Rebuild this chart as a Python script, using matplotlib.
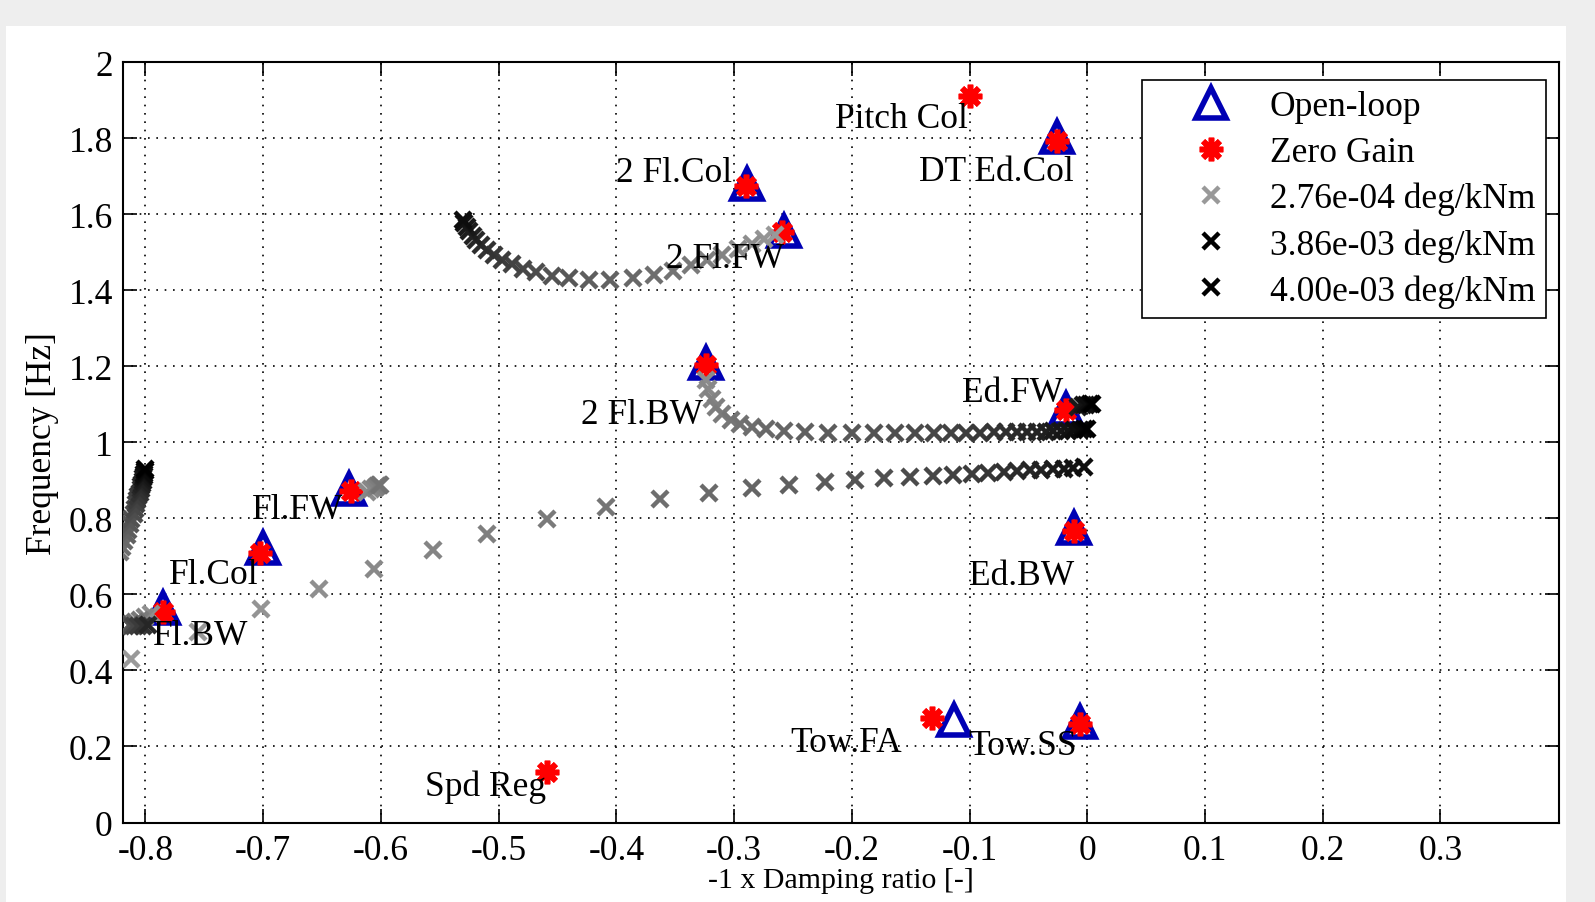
import numpy as np
import matplotlib.pyplot as plt
from matplotlib.patches import Rectangle
from matplotlib.lines import Line2D

plt.rcParams['font.family'] = ['Liberation Serif', 'DejaVu Serif']

# open-loop poles (-1 x damping ratio, frequency Hz)
ol_x = [-0.785, -0.700, -0.627, -0.324, -0.289, -0.258, -0.026, -0.018, -0.011, -0.113, -0.006]
ol_y = [0.565, 0.722, 0.877, 1.209, 1.679, 1.556, 1.802, 1.088, 0.775, 0.270, 0.265]

# zero gain poles
zg_x = [-0.785, -0.703, -0.625, -0.324, -0.290, -0.259, -0.026, -0.100, -0.018, -0.011, -0.132, -0.006, -0.459]
zg_y = [0.555, 0.709, 0.872, 1.203, 1.674, 1.553, 1.794, 1.912, 1.086, 0.767, 0.275, 0.259, 0.134]

# mode labels
mode_labels = ['Pitch Col', 'DT Ed.Col', '2 Fl.Col', '2 Fl.FW', '2 Fl.BW', 'Ed.FW', 'Fl.FW',
               'Fl.Col', 'Fl.BW', 'Ed.BW', 'Tow.FA', 'Tow.SS', 'Spd Reg']
label_x = [-0.158, -0.077, -0.351, -0.308, -0.378, -0.063, -0.671, -0.742, -0.753, -0.056, -0.205, -0.055, -0.511]
label_y = [1.852, 1.713, 1.711, 1.483, 1.072, 1.130, 0.823, 0.652, 0.491, 0.649, 0.211, 0.203, 0.096]

# root locus branches, low gain -> high gain
fw2_x = [-0.265, -0.275, -0.285, -0.297, -0.310, -0.323, -0.337, -0.352, -0.368, -0.386, -0.405,
         -0.423, -0.440, -0.455, -0.468, -0.479, -0.489, -0.497, -0.504, -0.510, -0.515, -0.519,
         -0.522, -0.525, -0.527, -0.529, -0.530]
fw2_y = [1.545, 1.535, 1.522, 1.508, 1.494, 1.480, 1.466, 1.452, 1.441, 1.433, 1.428,
         1.428, 1.432, 1.438, 1.447, 1.457, 1.468, 1.480, 1.492, 1.505, 1.518, 1.531,
         1.544, 1.556, 1.567, 1.577, 1.586]

bw2_x = [-0.324, -0.322, -0.319, -0.315, -0.310, -0.303, -0.295, -0.285, -0.273, -0.258, -0.240,
         -0.220, -0.200, -0.181, -0.163, -0.146, -0.130, -0.116, -0.103, -0.091, -0.079, -0.069,
         -0.060, -0.051, -0.043, -0.035, -0.029, -0.022, -0.016, -0.011, -0.006, -0.003, 0.000]
bw2_y = [1.165, 1.140, 1.115, 1.093, 1.075, 1.060, 1.049, 1.040, 1.034, 1.030, 1.027,
         1.025, 1.024, 1.024, 1.024, 1.024, 1.024, 1.024, 1.025, 1.025, 1.026, 1.026,
         1.027, 1.027, 1.028, 1.028, 1.029, 1.030, 1.031, 1.032, 1.033, 1.034, 1.036]

low_x = [-0.812, -0.702, -0.653, -0.606, -0.556, -0.510, -0.459, -0.409, -0.363, -0.321, -0.285,
         -0.253, -0.223, -0.197, -0.173, -0.151, -0.131, -0.114, -0.098, -0.084, -0.071, -0.060,
         -0.049, -0.039, -0.029, -0.020, -0.012, -0.003]
low_y = [0.431, 0.562, 0.615, 0.668, 0.716, 0.760, 0.799, 0.830, 0.852, 0.867, 0.880,
         0.887, 0.895, 0.900, 0.905, 0.909, 0.912, 0.915, 0.918, 0.920, 0.922, 0.924,
         0.926, 0.928, 0.929, 0.931, 0.933, 0.936]

flbw_x = [-0.755, -0.795, -0.800, -0.805, -0.809, -0.812, -0.813, -0.812, -0.810, -0.806, -0.802, -0.798]
flbw_y = [0.500, 0.548, 0.540, 0.533, 0.527, 0.523, 0.520, 0.518, 0.517, 0.517, 0.518, 0.520]

flfw_x = [-0.612, -0.608, -0.605, -0.603, -0.602, -0.601]
flfw_y = [0.870, 0.876, 0.880, 0.884, 0.887, 0.889]

edge_x = [-0.822, -0.820, -0.818, -0.816, -0.815, -0.813, -0.812, -0.810, -0.809, -0.808, -0.807,
          -0.806, -0.805, -0.804, -0.804, -0.803, -0.802, -0.802, -0.801, -0.801, -0.800, -0.800]
edge_y = [0.712, 0.725, 0.740, 0.755, 0.770, 0.785, 0.798, 0.812, 0.825, 0.837, 0.848,
          0.858, 0.867, 0.876, 0.884, 0.891, 0.898, 0.905, 0.912, 0.918, 0.924, 0.930]

edfw_x = [-0.008, -0.004, -0.001, 0.002, 0.004]
edfw_y = [1.094, 1.097, 1.099, 1.101, 1.102]

branches = [(fw2_x, fw2_y), (bw2_x, bw2_y), (low_x, low_y), (flbw_x, flbw_y),
            (flfw_x, flfw_y), (edge_x, edge_y), (edfw_x, edfw_y)]
branch_grey = [(0.6, 0.05), (0.55, 0.0), (0.6, 0.05), (0.6, 0.15), (0.55, 0.45), (0.45, 0.0), (0.1, 0.0)]

gain_labels = ['2.76e-04 deg/kNm', '3.86e-03 deg/kNm', '4.00e-03 deg/kNm']

FS = 25.5
W, H = 1595, 903
fig = plt.figure(figsize=(W / 100, H / 100), dpi=100, facecolor='#eeeeee')
fig.patches.append(Rectangle((6 / W, 0), (1566 - 6) / W, 1 - 27 / H,
                             transform=fig.transFigure, facecolor='white', edgecolor='none', zorder=-10))

ax = fig.add_axes([122.5 / W, 1 - 823.5 / H, (1559 - 122.5) / W, (823.5 - 63.2) / H])

ax.plot(ol_x, ol_y, linestyle='none', marker='^', ms=21, mfc='none', mec='#0000b4', mew=4, zorder=3)
ax.plot(zg_x, zg_y, linestyle='none', marker=(8, 2, 0), ms=17, mec='#ff0000', mew=4, zorder=4)

for (bx, by), (g0, g1) in zip(branches, branch_grey):
    greys = np.linspace(g0, g1, len(bx))
    for xi, yi, g in zip(bx, by, greys):
        ax.plot(xi, yi, linestyle='none', marker='x', ms=11, mew=3.2, color=(g, g, g), zorder=5)

for lab, lx, ly in zip(mode_labels, label_x, label_y):
    ax.text(lx, ly, lab, fontsize=FS, ha='center', va='center', zorder=6)

ax.set_xlim(-0.8195, 0.4007)
ax.set_ylim(0, 2)
ax.set_xticks(np.arange(-8, 4) / 10)
ax.set_xticklabels(['-0.8', '-0.7', '-0.6', '-0.5', '-0.4', '-0.3', '-0.2', '-0.1', '0', '0.1', '0.2', '0.3'])
ax.set_yticks(np.arange(0, 11) / 5)
ax.set_yticklabels(['0', '0.2', '0.4', '0.6', '0.8', '1', '1.2', '1.4', '1.6', '1.8', '2'])
ax.tick_params(direction='in', length=10, width=1.2, top=True, right=True, labelsize=FS)
ax.tick_params(axis='x', pad=8)
ax.tick_params(axis='y', pad=7)
ax.grid(True, linestyle=(0, (1, 4)), color='black', linewidth=1.2)
for s in ax.spines.values():
    s.set_linewidth(1.5)

ax.set_xlabel('-1 x Damping ratio [-]', fontsize=21.5, labelpad=0)
ax.set_ylabel('Frequency [Hz]', fontsize=FS, labelpad=7)

handles = [
    Line2D([], [], linestyle='none', marker='^', ms=21, mfc='none', mec='#0000b4', mew=4),
    Line2D([], [], linestyle='none', marker=(8, 2, 0), ms=17, mec='#ff0000', mew=4),
    Line2D([], [], linestyle='none', marker='x', ms=11, mew=3.2, color='#999999'),
    Line2D([], [], linestyle='none', marker='x', ms=11, mew=3.2, color='black'),
    Line2D([], [], linestyle='none', marker='x', ms=11, mew=3.2, color='black'),
]
leg = fig.legend(handles, ['Open-loop', 'Zero Gain'] + gain_labels, loc='upper right',
                 bbox_to_anchor=(1546 / W, 1 - 80.7 / H), borderaxespad=0, fontsize=FS,
                 fancybox=False, framealpha=1, edgecolor='black', labelspacing=0.36,
                 handlelength=3.25, handletextpad=0.05, borderpad=0.3)
leg.get_frame().set_linewidth(1.2)

fig.savefig('out.png', dpi=100, facecolor=fig.get_facecolor())
